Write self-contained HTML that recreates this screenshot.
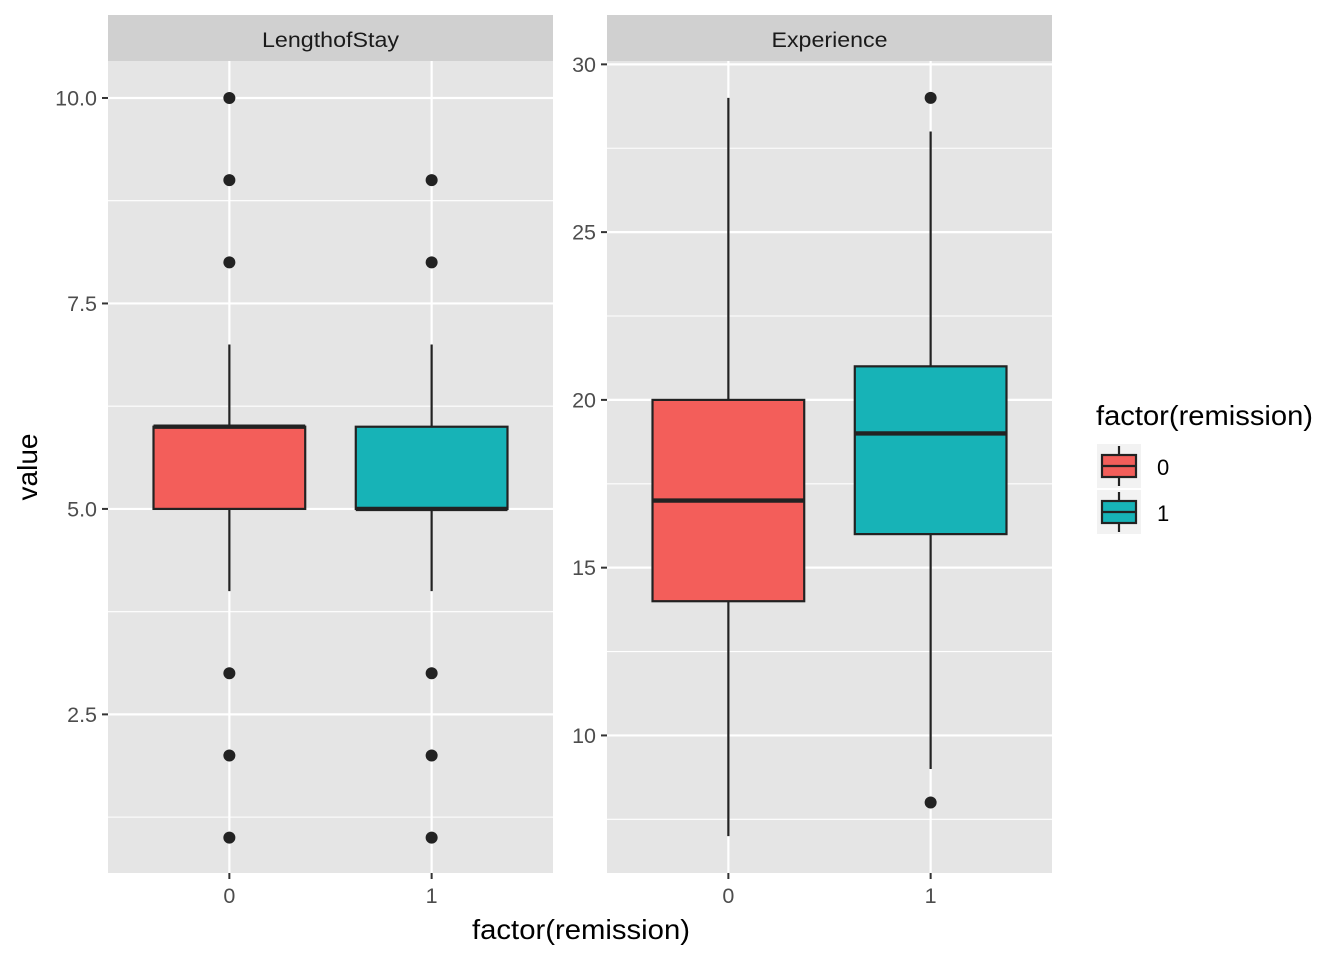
<!DOCTYPE html>
<html><head><meta charset="utf-8"><style>
body{margin:0;background:#fff}
svg{display:block;font-family:"Liberation Sans",Arial,sans-serif}
</style></head><body>
<svg id="chart" width="1344" height="960" viewBox="0 0 1344 960" xmlns="http://www.w3.org/2000/svg"></svg>
<script>
const categories = ["0","1"];
const panelNames = ["LengthofStay","Experience"];
const losStats = [[4,5,6,6,7],[4,5,5,6,7]];
const losOutliers = [[1,2,3,8,9,10],[1,2,3,8,9]];
const expStats = [[7,14,17,20,29],[9,16,19,21,28]];
const expOutliers = [[],[8,29]];
const losTicks = [2.5,5.0,7.5,10.0];
const losTickLabels = ["2.5","5.0","7.5","10.0"];
const losMinor = [1.25,3.75,6.25,8.75];
const expTicks = [10,15,20,25,30];
const expTickLabels = ["10","15","20","25","30"];
const expMinor = [7.5,12.5,17.5,22.5,27.5];
const fills = ["#F35E5A","#17B3B7"];

const svg = document.getElementById('chart');
const NS = "http://www.w3.org/2000/svg";
function mk(tag, attrs, parent){const e=document.createElementNS(NS,tag);for(const k in attrs)e.setAttribute(k,attrs[k]);(parent||svg).appendChild(e);return e;}

const pTop=61, pBottom=873;
const panels = [
 {x0:108,x1:553,ymin:0.57,ymax:10.45,stats:losStats,out:losOutliers,ticks:losTicks,labels:losTickLabels,minor:losMinor,sw:137},
 {x0:607,x1:1052,ymin:5.9,ymax:30.1,stats:expStats,out:expOutliers,ticks:expTicks,labels:expTickLabels,minor:expMinor,sw:116}
];
panels.forEach((p,pi)=>{
  const y = v => pBottom - (v-p.ymin)/(p.ymax-p.ymin)*(pBottom-pTop);
  const bw = (p.x1-p.x0)/2.2;
  const x = i => p.x0 + (0.6+i)*bw;
  const g = mk('g',{});
  
  
  const bg = mk('rect',{x:p.x0,y:pTop,width:p.x1-p.x0,height:pBottom-pTop,fill:'#E5E5E5'},g);
  
  
  const strip = mk('rect',{x:p.x0,y:15,width:p.x1-p.x0,height:46,fill:'#D0D0D0'},g);
  
  
  const st = mk('text',{x:(p.x0+p.x1)/2,y:47,'text-anchor':'middle','font-size':'21',fill:'#1A1A1A',textLength:p.sw,lengthAdjust:'spacingAndGlyphs'},g);
  st.textContent = panelNames[pi];
  
  
  p.minor.forEach(v=>{mk('line',{x1:p.x0,x2:p.x1,y1:y(v),y2:y(v),stroke:'#fff','stroke-width':1.1},g);});
  p.ticks.forEach((v,i)=>{
    mk('line',{x1:p.x0,x2:p.x1,y1:y(v),y2:y(v),stroke:'#fff','stroke-width':2.2},g);
    mk('line',{x1:p.x0-6,x2:p.x0,y1:y(v),y2:y(v),stroke:'#333','stroke-width':2},g);
    const t = mk('text',{x:p.x0-11,y:y(v)+7.5,'text-anchor':'end','font-size':'21.5',fill:'#4D4D4D'},g);
    t.textContent = p.labels[i];
    
    
  });
  categories.forEach((c,i)=>{
    mk('line',{x1:x(i),x2:x(i),y1:pTop,y2:pBottom,stroke:'#fff','stroke-width':2.2},g);
    mk('line',{x1:x(i),x2:x(i),y1:pBottom,y2:pBottom+6,stroke:'#333','stroke-width':2},g);
    const t = mk('text',{x:x(i),y:903,'text-anchor':'middle','font-size':'21.5',fill:'#4D4D4D'},g);
    t.textContent = c;
    
    
  });
  categories.forEach((c,i)=>{
    const s = p.stats[i], cx = x(i), hw = bw*0.375;
    const bg2 = mk('g',{},g);
    
    
    mk('line',{x1:cx,x2:cx,y1:y(s[0]),y2:y(s[1]),stroke:'#222','stroke-width':2.2},bg2);
    mk('line',{x1:cx,x2:cx,y1:y(s[3]),y2:y(s[4]),stroke:'#222','stroke-width':2.2},bg2);
    mk('rect',{x:cx-hw,y:y(s[3]),width:2*hw,height:y(s[1])-y(s[3]),fill:fills[i],stroke:'#222','stroke-width':2.2},bg2);
    mk('line',{x1:cx-hw,x2:cx+hw,y1:y(s[2]),y2:y(s[2]),stroke:'#222','stroke-width':4.4},bg2);
    p.out[i].forEach(v=>{
      const o = mk('circle',{cx:cx,cy:y(v),r:6,fill:'#222'},bg2);
      
      
    });
  });
});
const xt = mk('text',{x:581,y:939,'text-anchor':'middle','font-size':'28',fill:'#000',textLength:218,lengthAdjust:'spacingAndGlyphs'});
xt.textContent='factor(remission)';


const yt = mk('text',{x:0,y:0,'text-anchor':'middle','font-size':'28',fill:'#000',transform:'translate(37,467) rotate(-90)'});
yt.textContent='value';


const lg = mk('g',{});


const lt = mk('text',{x:1096,y:425,'font-size':'28',fill:'#000',textLength:217,lengthAdjust:'spacingAndGlyphs'},lg);
lt.textContent='factor(remission)';


categories.forEach((c,i)=>{
  const y0 = 444+i*46;
  const e = mk('g',{},lg);
  
  
  mk('rect',{x:1097,y:y0,width:44,height:44,fill:'#F2F2F2'},e);
  mk('line',{x1:1119,x2:1119,y1:y0+2,y2:y0+42,stroke:'#222','stroke-width':2.2},e);
  mk('rect',{x:1102,y:y0+11,width:34,height:22,fill:fills[i],stroke:'#222','stroke-width':2.2},e);
  mk('line',{x1:1102,x2:1136,y1:y0+22,y2:y0+22,stroke:'#222','stroke-width':2.2},e);
  const t = mk('text',{x:1157,y:y0+31,'font-size':'22',fill:'#000'},e);
  t.textContent=c;
});
</script>
</body></html>
